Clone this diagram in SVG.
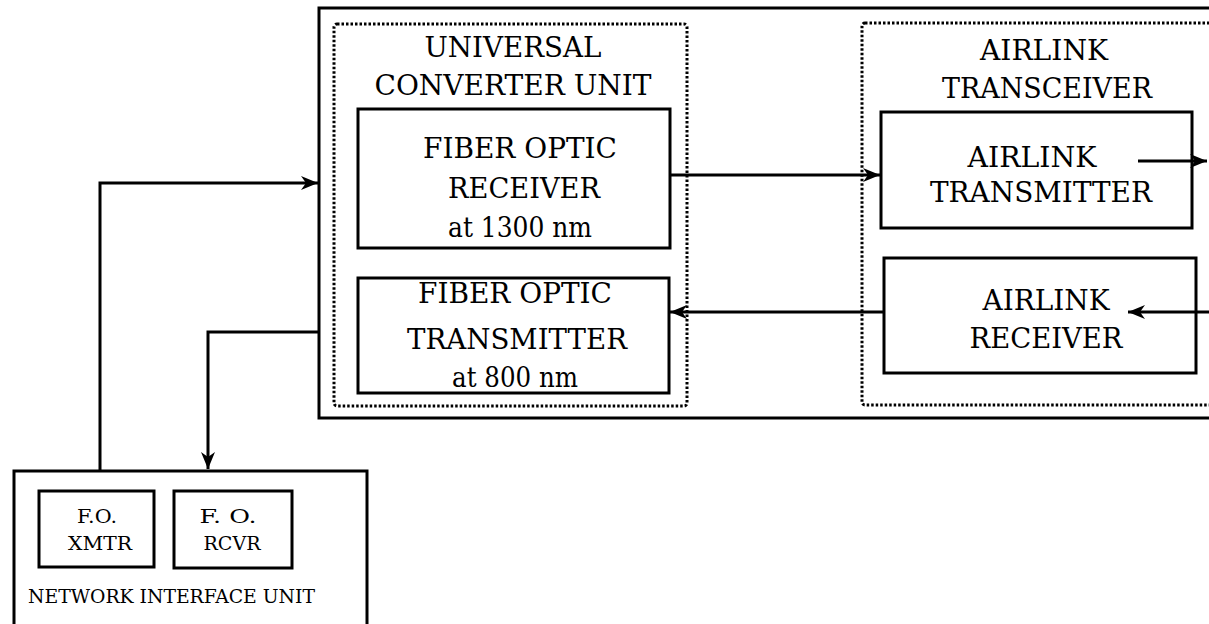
<svg xmlns="http://www.w3.org/2000/svg" width="1209" height="624" viewBox="0 0 1209 624">
<style>
.box{fill:none;stroke:#000;stroke-width:3}
.dot{fill:none;stroke:#000;stroke-width:3;stroke-dasharray:2.5 2}
.t{font-family:'DejaVu Serif','Liberation Serif','Times New Roman',serif;font-size:28px;fill:#000;text-anchor:middle}
.s{font-family:'DejaVu Serif','Liberation Serif','Times New Roman',serif;font-size:18px;fill:#000;text-anchor:middle}
.c{fill:none;stroke:#000;stroke-width:3}
</style>
<defs>
<marker id="ah" markerUnits="userSpaceOnUse" markerWidth="20" markerHeight="16" refX="17" refY="8" orient="auto">
<path d="M0,1 L17,8 L0,15 L5,8 Z" fill="#000"/>
</marker>
</defs>
<rect width="1209" height="624" fill="#fff"/>
<g id="outer"><rect class="box" x="319" y="8" width="900" height="410"/></g>
<g id="ucu">
<rect class="dot" x="334" y="24" width="353" height="382" rx="3"/>
<text class="t" x="513" y="57" textLength="177" lengthAdjust="spacingAndGlyphs">UNIVERSAL</text>
<text class="t" x="513" y="95" textLength="277" lengthAdjust="spacingAndGlyphs">CONVERTER UNIT</text>
</g>
<g id="fo-receiver">
<rect class="box" x="358" y="109" width="312" height="139"/>
<text class="t" x="520" y="158" textLength="194" lengthAdjust="spacingAndGlyphs">FIBER OPTIC</text>
<text class="t" x="524" y="198" textLength="152" lengthAdjust="spacingAndGlyphs">RECEIVER</text>
<text class="t" x="520" y="237" textLength="144" lengthAdjust="spacingAndGlyphs">at 1300 nm</text>
</g>
<g id="fo-transmitter">
<rect class="box" x="358" y="278" width="311" height="115"/>
<text class="t" x="515" y="303" textLength="194" lengthAdjust="spacingAndGlyphs">FIBER OPTIC</text>
<text class="t" x="517" y="349" textLength="220" lengthAdjust="spacingAndGlyphs">TRANSMITTER</text>
<text class="t" x="515" y="387" textLength="126" lengthAdjust="spacingAndGlyphs">at 800 nm</text>
</g>
<g id="airlink-transceiver">
<rect class="dot" x="862" y="23" width="360" height="382" rx="3"/>
<text class="t" x="1044" y="60" textLength="128" lengthAdjust="spacingAndGlyphs">AIRLINK</text>
<text class="t" x="1047" y="98" textLength="210" lengthAdjust="spacingAndGlyphs">TRANSCEIVER</text>
</g>
<g id="airlink-transmitter">
<rect class="box" x="881" y="112" width="311" height="116"/>
<text class="t" x="1032" y="167" textLength="129" lengthAdjust="spacingAndGlyphs">AIRLINK</text>
<text class="t" x="1041" y="202" textLength="222" lengthAdjust="spacingAndGlyphs">TRANSMITTER</text>
</g>
<g id="airlink-receiver">
<rect class="box" x="884" y="258" width="312" height="115"/>
<text class="t" x="1046" y="310" textLength="127" lengthAdjust="spacingAndGlyphs">AIRLINK</text>
<text class="t" x="1046" y="348" textLength="153" lengthAdjust="spacingAndGlyphs">RECEIVER</text>
</g>
<g id="niu">
<rect class="box" x="14" y="471" width="353" height="170"/>
<text class="s" x="28" y="603" style="text-anchor:start" textLength="287" lengthAdjust="spacingAndGlyphs">NETWORK INTERFACE UNIT</text>
</g>
<g id="fo-xmtr">
<rect class="box" x="39" y="491" width="115" height="76"/>
<text class="s" x="97" y="523" textLength="40" lengthAdjust="spacingAndGlyphs">F.O.</text>
<text class="s" x="100" y="550" textLength="64" lengthAdjust="spacingAndGlyphs">XMTR</text>
</g>
<g id="fo-rcvr">
<rect class="box" x="174" y="491" width="118" height="77"/>
<text class="s" x="228" y="523" textLength="57" lengthAdjust="spacingAndGlyphs">F. O.</text>
<text class="s" x="232" y="550" textLength="57" lengthAdjust="spacingAndGlyphs">RCVR</text>
</g>
<g id="connectors">
<polyline class="c" points="100,470 100,183 318,183" marker-end="url(#ah)"/>
<polyline class="c" points="319,332 208,332 208,469" marker-end="url(#ah)"/>
<line class="c" x1="670" y1="175" x2="880" y2="175" marker-end="url(#ah)"/>
<line class="c" x1="884" y1="312" x2="670" y2="312" marker-end="url(#ah)"/>
<line class="c" x1="1138" y1="161" x2="1207" y2="161" marker-end="url(#ah)"/>
<line class="c" x1="1209" y1="312" x2="1128" y2="312" marker-end="url(#ah)"/>
</g>
</svg>
